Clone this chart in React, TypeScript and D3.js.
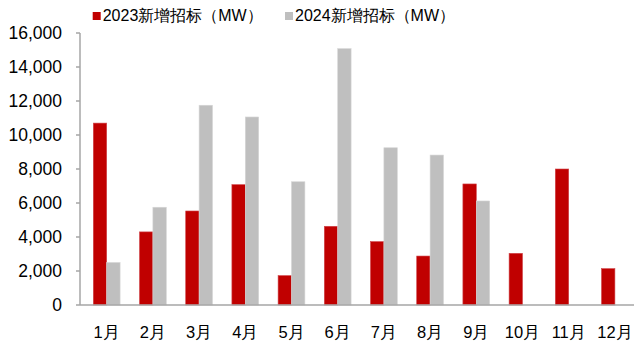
import React from "react";
import * as d3 from "d3";

const months = ["1月", "2月", "3月", "4月", "5月", "6月", "7月", "8月", "9月", "10月", "11月", "12月"];
const series2023 = [10700, 4300, 5530, 7080, 1730, 4630, 3730, 2880, 7120, 3040, 8000, 2140];
const series2024: (number | null)[] = [2500, 5750, 11750, 11060, 7250, 15080, 9250, 8820, 6120, null, null, null];
const seriesNames = ["2023新增招标（MW）", "2024新增招标（MW）"];
const seriesColors = ["#C00000", "#BFBFBF"];
const yTicks = [0, 2000, 4000, 6000, 8000, 10000, 12000, 14000, 16000];

const W = 634;
const H = 342;
const axisX = 80;
const top = 33;
const bottom = 305;

export default function App() {
  const y = d3.scaleLinear().domain([0, 16000]).range([bottom, top]);
  const x0 = d3
    .scaleBand<string>()
    .domain(months)
    .range([83.6, 638])
    .paddingInner(0.42)
    .paddingOuter(0.21);
  const x1 = d3.scaleBand<string>().domain(["a", "b"]).range([0, x0.bandwidth()]);
  const fmt = d3.format(",");
  const font = "'Liberation Sans', Arial, sans-serif";

  return (
    <svg width={W} height={H} style={{ position: "absolute", left: 0, top: 0 }}>
      <rect width={W} height={H} fill="#fff" />
      {/* legend */}
      {seriesNames.map((name, i) => {
        const lx = i === 0 ? 92.7 : 285;
        return (
          <g key={name}>
            <rect x={lx} y={12} width={8} height={8} fill={seriesColors[i]} />
            <text x={lx + 10} y={21} fontSize={16} fontFamily={font} fill="#000">
              {name}
            </text>
          </g>
        );
      })}
      {/* bars */}
      {months.map((m, i) => {
        const bx = x0(m)!;
        const v1 = series2023[i];
        const v2 = series2024[i];
        return (
          <g key={m}>
            <rect
              x={bx + x1("a")!}
              y={y(v1)}
              width={x1.bandwidth()}
              height={bottom - y(v1)}
              fill={seriesColors[0]}
              stroke="#d0454a"
              strokeWidth={0.6}
            />
            {v2 != null && (
              <rect
                x={bx + x1("b")!}
                y={y(v2)}
                width={x1.bandwidth()}
                height={bottom - y(v2)}
                fill={seriesColors[1]}
                stroke="#d6d6d6"
                strokeWidth={0.6}
              />
            )}
            <text
              x={bx + x0.bandwidth() / 2}
              y={338}
              textAnchor="middle"
              fontSize={16.5}
              fontFamily={font}
              fill="#000"
            >
              {m}
            </text>
          </g>
        );
      })}
      {/* y axis */}
      <line x1={axisX} x2={axisX} y1={top} y2={bottom} stroke="#A6A6A6" strokeWidth={1.5} />
      {yTicks.map((t) => (
        <g key={t}>
          <line x1={76} x2={axisX} y1={y(t)} y2={y(t)} stroke="#A6A6A6" strokeWidth={1.5} />
          <text
            x={62}
            y={y(t)}
            dy="0.36em"
            textAnchor="end"
            fontSize={17.5}
            fontFamily={font}
            fill="#000"
          >
            {fmt(t)}
          </text>
        </g>
      ))}
      {/* x axis */}
      <line x1={axisX} x2={W} y1={bottom} y2={bottom} stroke="#A6A6A6" strokeWidth={1.5} />
    </svg>
  );
}
